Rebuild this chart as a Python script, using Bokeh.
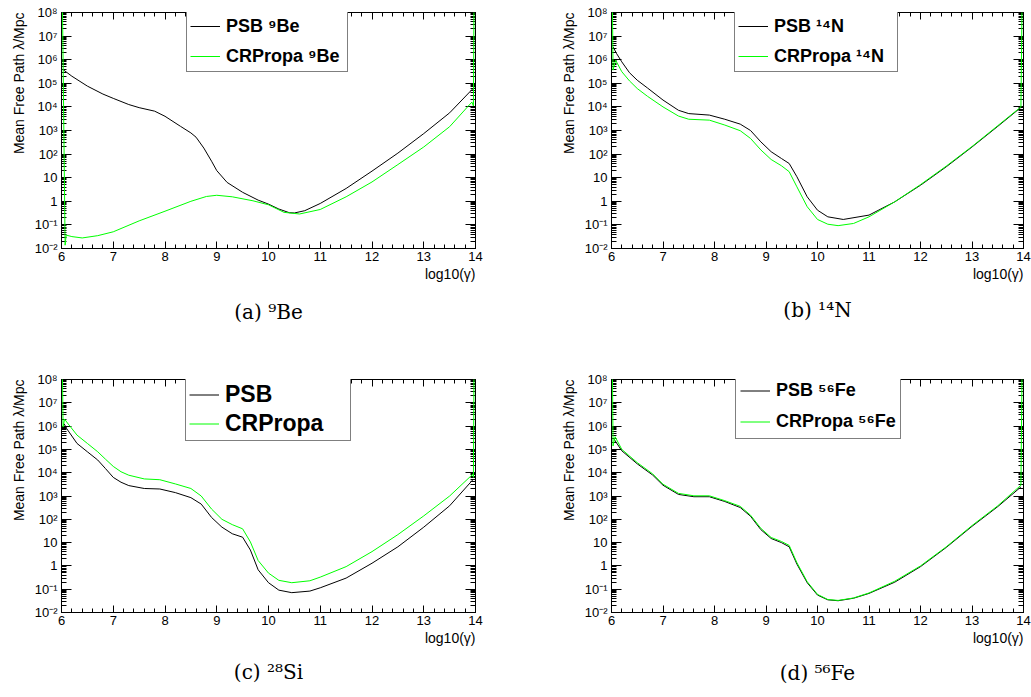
from bokeh.plotting import figure
from bokeh.models import (FixedTicker, LogAxis, LinearAxis, Legend, LegendItem,
                          Title, Range1d)
from bokeh.layouts import column, row
from bokeh.embed import file_html
from bokeh.resources import INLINE

# ---------------- data ----------------
X_TICKS = [6, 7, 8, 9, 10, 11, 12, 13, 14]
Y_TICKS = [1e-2, 1e-1, 1, 10, 1e2, 1e3, 1e4, 1e5, 1e6, 1e7, 1e8]
Y_TICK_LABELS = ["10⁻²", "10⁻¹", "1", "10", "10²", "10³", "10⁴", "10⁵", "10⁶", "10⁷", "10⁸"]
X_TITLE = "log10(γ)"
Y_TITLE = "Mean Free Path λ/Mpc"

# (a) 9Be
be_psb_x = [6.03, 6.2, 6.5, 6.8, 7.0, 7.3, 7.5, 7.8, 8.0, 8.3, 8.5, 8.6, 8.75, 8.9, 9.0, 9.2, 9.5,
            9.8, 10.0, 10.2, 10.4, 10.5, 10.7, 11.0, 11.5, 12.0, 12.5, 13.0, 13.5, 13.97]
be_psb_y = [3.8e5, 2.0e5, 7.6e4, 3.5e4, 2.3e4, 1.26e4, 9.3e3, 6.6e3, 4.0e3, 1.5e3, 7.9e2, 5.2e2,
            1.8e2, 50, 20, 6.3, 2.4, 1.12, 0.76, 0.47, 0.33, 0.32, 0.40, 0.81, 3.5, 19, 110,
            740, 5.6e3, 6.6e4]
be_crp_x = [6.02, 6.07, 6.09, 6.2, 6.4, 6.7, 7.0, 7.5, 8.0, 8.5, 8.8, 9.0, 9.3, 9.7, 10.0, 10.3,
            10.6, 11.0, 11.5, 12.0, 12.5, 13.0, 13.5, 13.93, 13.96, 13.97]
be_crp_y = [1e8, 0.0138, 0.037, 0.032, 0.028, 0.035, 0.051, 0.148, 0.38, 1.0, 1.6, 1.8, 1.55,
            1.05, 0.71, 0.34, 0.29, 0.45, 1.55, 6.6, 36, 200, 1.45e3, 1.6e4, 1.1e4, 1e8]

# (b) 14N
n_psb_x = [6.03, 6.1, 6.2, 6.35, 6.5, 6.7, 7.0, 7.3, 7.5, 7.9, 8.2, 8.5, 8.7, 8.9, 9.1, 9.3,
           9.45, 9.6, 9.8, 10.0, 10.2, 10.5, 11.0, 11.5, 12.0, 12.5, 13.0, 13.5, 13.95]
n_psb_y = [3.5e6, 1.8e6, 8.1e5, 2.8e5, 1.35e5, 6.3e4, 1.95e4, 7.2e3, 5.2e3, 4.5e3, 3.0e3,
           1.86e3, 1.0e3, 330, 126, 65, 40, 11, 1.55, 0.42, 0.22, 0.17, 0.26, 0.95, 4.8, 29,
           200, 1.5e3, 9.5e3]
n_crp_x = [6.02, 6.03, 6.08, 6.2, 6.35, 6.5, 6.7, 7.0, 7.3, 7.5, 7.9, 8.2, 8.5, 8.7, 8.9, 9.1,
           9.3, 9.45, 9.6, 9.8, 10.0, 10.2, 10.4, 10.7, 11.0, 11.5, 12.0, 12.5, 13.0, 13.5,
           13.95, 13.97]
n_crp_y = [1e8, 3.6e5, 9.5e5, 3.1e5, 1.26e5, 6.0e4, 2.8e4, 1.0e4, 4.1e3, 3.0e3, 2.75e3, 1.7e3,
           980, 460, 150, 59, 32, 18, 4.1, 0.59, 0.17, 0.107, 0.093, 0.115, 0.22, 0.95, 5.1,
           31, 210, 1.6e3, 1.0e4, 1e8]

# (c) 28Si
si_psb_x = [6.05, 6.1, 6.3, 6.5, 6.7, 6.85, 7.0, 7.15, 7.3, 7.6, 7.9, 8.2, 8.5, 8.7, 8.9, 9.1,
            9.3, 9.5, 9.65, 9.8, 10.0, 10.2, 10.45, 10.8, 11.0, 11.5, 12.0, 12.5, 13.0, 13.5,
            13.95]
si_psb_y = [1.26e6, 7.8e5, 1.8e5, 7.9e4, 3.5e4, 1.5e4, 6.3e3, 3.9e3, 2.8e3, 2.1e3, 2.0e3,
            1.4e3, 850, 450, 120, 46, 24, 17, 4.8, 0.68, 0.19, 0.091, 0.071, 0.083, 0.115, 0.30,
            1.3, 6.6, 46, 380, 5.0e3]
si_crp_x = [6.02, 6.03, 6.06, 6.1, 6.3, 6.5, 6.7, 6.85, 7.0, 7.15, 7.3, 7.6, 7.9, 8.2, 8.5,
            8.7, 8.9, 9.1, 9.3, 9.5, 9.65, 9.8, 10.0, 10.2, 10.45, 10.8, 11.0, 11.5, 12.0, 12.5,
            13.0, 13.5, 13.95, 13.96, 13.97]
si_crp_y = [1e8, 9.1e5, 2.0e6, 1.5e6, 4.1e5, 1.8e5, 7.9e4, 3.8e4, 1.86e4, 1.1e4, 7.8e3, 5.4e3,
            5.0e3, 3.3e3, 2.1e3, 1.0e3, 275, 100, 59, 39, 10.7, 1.7, 0.49, 0.24, 0.19, 0.23,
            0.33, 0.93, 4.1, 22, 140, 1.0e3, 8.7e3, 6.3e3, 1e8]

# (d) 56Fe
fe_psb_x = [6.05, 6.2, 6.5, 6.8, 7.0, 7.3, 7.6, 7.9, 8.2, 8.5, 8.7, 8.9, 9.1, 9.3, 9.45, 9.6,
            9.8, 10.0, 10.2, 10.4, 10.7, 11.0, 11.5, 12.0, 12.5, 13.0, 13.5, 13.95]
fe_psb_y = [2.75e5, 8.7e4, 2.4e4, 7.9e3, 2.9e3, 1.17e3, 930, 930, 580, 320, 135, 36, 15, 10,
            6.6, 1.2, 0.19, 0.056, 0.035, 0.032, 0.041, 0.066, 0.20, 0.93, 6.2, 50, 350,
            2.45e3]
fe_crp_x = [6.02, 6.03, 6.07, 6.2, 6.5, 6.8, 7.0, 7.3, 7.6, 7.9, 8.2, 8.5, 8.7, 8.9, 9.1, 9.3,
            9.45, 9.6, 9.8, 10.0, 10.2, 10.4, 10.7, 11.0, 11.5, 12.0, 12.5, 13.0, 13.5, 13.95,
            13.97]
fe_crp_y = [1e8, 1.4e5, 3.5e5, 1.0e5, 2.7e4, 8.9e3, 3.2e3, 1.3e3, 1.02e3, 1.02e3, 630, 360,
            150, 41, 16.6, 11.2, 7.6, 1.38, 0.21, 0.060, 0.036, 0.033, 0.042, 0.069, 0.22, 1.0,
            6.6, 54, 380, 2.9e3, 1e8]

PANELS = [
    dict(caption="(a) ⁹Be", psb=(be_psb_x, be_psb_y), crp=(be_crp_x, be_crp_y),
         labels=("PSB ⁹Be", "CRPropa ⁹Be")),
    dict(caption="(b) ¹⁴N", psb=(n_psb_x, n_psb_y), crp=(n_crp_x, n_crp_y),
         labels=("PSB ¹⁴N", "CRPropa ¹⁴N")),
    dict(caption="(c) ²⁸Si", psb=(si_psb_x, si_psb_y), crp=(si_crp_x, si_crp_y),
         labels=("PSB", "CRPropa")),
    dict(caption="(d) ⁵⁶Fe", psb=(fe_psb_x, fe_psb_y), crp=(fe_crp_x, fe_crp_y),
         labels=("PSB ⁵⁶Fe", "CRPropa ⁵⁶Fe")),
]

# ---------------- layout / style ----------------
LAYOUT = [
    dict(w=520, h=340, l=61, r=45, t=12, b=92, leg=(125, 176), fs="18px", lh=24, sp=6, pad=3, lw=118, cap=32),
    dict(w=511, h=340, l=91, r=8, t=12, b=92, leg=(123, 176), fs="18px", lh=24, sp=6, pad=3, lw=120, cap=28),
    dict(w=520, h=357, l=61, r=45, t=39, b=80, leg=(124, 171), fs="23px", lh=27, sp=2, pad=3, lw=122, cap=25),
    dict(w=511, h=357, l=91, r=8, t=39, b=80, leg=(124, 173), fs="18px", lh=25, sp=6, pad=4, lw=120, cap=26),
]

SANS = "Liberation Sans"
SERIF = "DejaVu Serif"
GREEN = "#00ff00"

X_MINOR = [6 + 0.2 * i for i in range(41) if i % 5 != 0]
Y_MINOR = [k * 10.0 ** e for e in range(-2, 8) for k in range(2, 10)]
Y_OVERRIDES = {t: s for t, s in zip(Y_TICKS, Y_TICK_LABELS)}
X_BLANK = {t: "" for t in X_TICKS}
Y_BLANK = {t: "" for t in Y_TICKS}


def style_axis(ax, major, minor, standoff, font_size="13px"):
    ax.axis_line_color = "black"
    ax.axis_line_width = 1
    ax.major_tick_line_color = "black"
    ax.minor_tick_line_color = "black"
    ax.major_tick_in = major
    ax.major_tick_out = 0
    ax.minor_tick_in = minor
    ax.minor_tick_out = 0
    ax.major_label_text_font = SANS
    ax.major_label_text_color = "black"
    ax.major_label_standoff = standoff
    ax.major_label_text_font_size = font_size


def make_panel(d, lay):
    p = figure(width=lay["w"], height=lay["h"], x_range=Range1d(6, 14),
               y_range=Range1d(1e-2, 1e8), y_axis_type="log",
               output_backend="svg", toolbar_location=None,
               min_border_left=lay["l"], min_border_right=lay["r"],
               min_border_top=lay["t"], min_border_bottom=lay["b"])
    p.grid.visible = False
    p.outline_line_color = "black"
    p.outline_line_width = 1
    p.background_fill_color = "white"
    p.border_fill_color = "white"

    xt = FixedTicker(ticks=X_TICKS, minor_ticks=X_MINOR)
    yt = FixedTicker(ticks=Y_TICKS, minor_ticks=Y_MINOR)

    xa = p.xaxis[0]
    xa.ticker = xt
    style_axis(xa, 7, 4, 3)
    ya = p.yaxis[0]
    ya.ticker = yt
    ya.major_label_overrides = Y_OVERRIDES
    style_axis(ya, 10, 5, 4)

    top = LinearAxis(ticker=xt, major_label_overrides=X_BLANK)
    style_axis(top, 7, 4, 0, "1px")
    p.add_layout(top, "above")
    right = LogAxis(ticker=yt, major_label_overrides=Y_BLANK)
    style_axis(right, 10, 5, 0, "1px")
    p.add_layout(right, "right")

    r1 = p.line(d["psb"][0], d["psb"][1], line_color="black", line_width=1)
    r2 = p.line(d["crp"][0], d["crp"][1], line_color=GREEN, line_width=1, level="overlay")

    leg = Legend(items=[LegendItem(label=d["labels"][0], renderers=[r1]),
                        LegendItem(label=d["labels"][1], renderers=[r2])],
                 location=lay["leg"], orientation="vertical",
                 label_text_font=SANS, label_text_font_style="bold",
                 label_text_font_size=lay["fs"], label_text_color="black",
                 glyph_width=30, glyph_height=lay["lh"], label_height=lay["lh"],
                 label_width=lay["lw"],
                 label_standoff=6, padding=lay["pad"], spacing=lay["sp"],
                 border_line_color="black", border_line_width=1,
                 background_fill_color="white", background_fill_alpha=1.0)
    p.add_layout(leg)

    p.add_layout(Title(text=Y_TITLE, align="right", text_font=SANS, text_font_size="14px",
                       text_font_style="normal", text_color="black", standoff=9), "left")
    p.add_layout(Title(text=X_TITLE, align="right", text_font=SANS, text_font_size="14px",
                       text_font_style="normal", text_color="black", standoff=0), "below")
    p.add_layout(Title(text=d["caption"], align="center", text_font=SERIF, text_font_size="20px",
                       text_font_style="normal", text_color="black", standoff=lay["cap"]),
                 "below")
    return p


figs = [make_panel(d, lay) for d, lay in zip(PANELS, LAYOUT)]
layout = column(row(figs[0], figs[1], spacing=0), row(figs[2], figs[3], spacing=0), spacing=0)

open("out.html", "w").write(file_html(layout, INLINE))
